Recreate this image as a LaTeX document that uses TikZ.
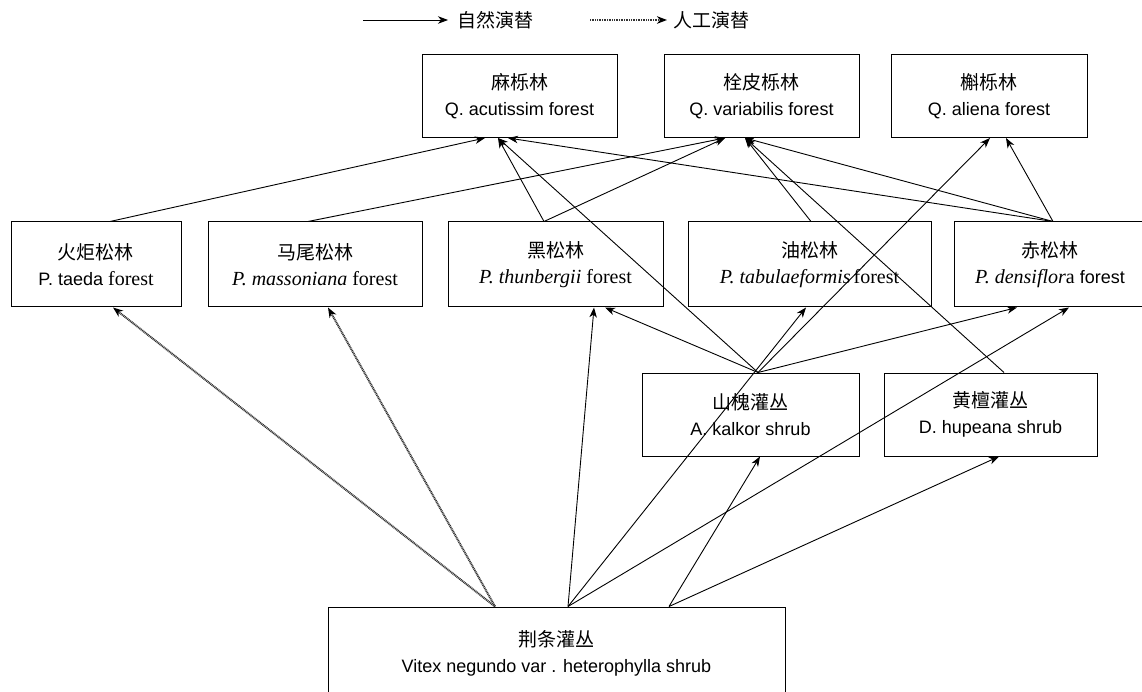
\documentclass[tikz,border=0pt]{standalone}
\usepackage{fontspec}
\setmainfont{Liberation Sans}
\newfontfamily\tms{Liberation Serif}
\newfontfamily\cjk{Noto Sans CJK SC}
\usetikzlibrary{arrows.meta}
\newcommand\zhtext[1]{{\cjk\fontsize{19pt}{26pt}\selectfont #1}}
\begin{document}
\begin{tikzpicture}[x=1pt,y=-1pt,
  box/.style={draw, line width=1pt, inner sep=0pt, align=center,
    font=\fontsize{18pt}{26pt}\selectfont},
  legtext/.style={inner sep=0pt, anchor=west, font=\cjk\fontsize{19pt}{26pt}\selectfont},
  arr/.style={line width=0.9pt, -{Stealth[length=10pt,width=7.5pt,inset=3pt]}},
  art/.style={line width=2pt, black!80, dash pattern=on 1pt off 0.7pt,
    -{Stealth[length=10pt,width=7.5pt,inset=3pt,black]}}]
\useasboundingbox (0,0) rectangle (1142,692);

% legend
\coordinate (ls1) at (363,20);
\node[legtext] (lt1) at (457,20) {自然演替};
\coordinate (ls2) at (590,20);
\node[legtext] (lt2) at (673,20) {人工演替};
\draw[arr] (ls1) -- ([xshift=-9pt]lt1.west);
\draw[art] (ls2) -- ([xshift=-6pt]lt2.west);

% top row
\node[box, minimum width=195pt, minimum height=83pt] (mali) at (519.5,96) {\zhtext{麻栎林}\\Q. acutissim forest};
\node[box, minimum width=195pt, minimum height=83pt] (shuanpi) at (761.5,96) {\zhtext{栓皮栎林}\\Q. variabilis forest};
\node[box, minimum width=196pt, minimum height=83pt] (hu) at (989,96) {\zhtext{槲栎林}\\Q. aliena forest};

% middle row
\node[box, minimum width=170pt, minimum height=85pt] (huoju) at (96,264.5) {\zhtext{火炬松林}\\P. taeda {\tms\fontsize{20pt}{26pt}\selectfont forest}};
\node[box, minimum width=214pt, minimum height=85pt] (mawei) at (315,264.5) {\zhtext{马尾松林}\\{\tms\fontsize{20pt}{26pt}\selectfont\textit{P. massoniana} forest}};
\node[box, minimum width=215pt, minimum height=85pt] (heisong) at (555.5,264.5) {\zhtext{黑松林}\\{\tms\fontsize{20pt}{26pt}\selectfont\textit{P. thunbergii} forest}};
\node[box, minimum width=243pt, minimum height=85pt] (yousong) at (809.5,264.5) {\zhtext{油松林}\\{\tms\fontsize{20pt}{26pt}\selectfont\textit{P. tabulaeformis}\hspace{-2pt} forest}};
\node[box, minimum width=192pt, minimum height=85pt] (chisong) at (1050,264.5) {\zhtext{赤松林}\\{\tms\fontsize{20pt}{26pt}\selectfont\textit{P. densiflor}a} forest};

% shrubs
\node[box, minimum width=217pt, minimum height=83pt] (shanhuai) at (750.5,414.5) {\zhtext{山槐灌丛}\\A. kalkor shrub};
\node[box, minimum width=213pt, minimum height=83pt] (huangtan) at (990.5,414.5) {\zhtext{黄檀灌丛}\\D. hupeana shrub};

% bottom
\node[box, minimum width=457pt, minimum height=93pt] (jingtiao) at (556.5,653.5) {\zhtext{荆条灌丛}\\Vitex negundo var . heterophylla shrub};

% connectors to top row
\draw[arr] ([xshift=14pt]huoju.north) -- ([xshift=-34.5pt]mali.south);
\draw[arr] ([xshift=-7pt]mawei.north) -- ([xshift=-36.5pt]shuanpi.south);
\draw[arr] ([xshift=-11.5pt]heisong.north) -- ([xshift=-21.5pt]mali.south);
\draw[arr] ([xshift=-11.5pt]heisong.north) -- ([xshift=-36.5pt]shuanpi.south);
\draw[arr] ([xshift=1.5pt]yousong.north) -- ([xshift=-16.5pt]shuanpi.south);
\draw[arr] ([xshift=3pt]chisong.north) -- ([xshift=-11.5pt]mali.south);
\draw[arr] ([xshift=3pt]chisong.north) -- ([xshift=-16.5pt]shuanpi.south);
\draw[arr] ([xshift=3pt]chisong.north) -- ([xshift=17pt]hu.south);
\draw[arr] ([xshift=7.5pt]shanhuai.north) -- ([xshift=-21.5pt]mali.south);
\draw[arr] ([xshift=7.5pt]shanhuai.north) -- ([xshift=1pt]hu.south);
\draw[arr] ([xshift=13.5pt]huangtan.north) -- ([xshift=-16.5pt]shuanpi.south);

% connectors to middle row
\draw[arr] ([xshift=7.5pt]shanhuai.north) -- ([xshift=49.5pt]heisong.south);
\draw[arr] ([xshift=7.5pt]shanhuai.north) -- ([xshift=-33pt]chisong.south);
\draw[art] ([xshift=-61.5pt]jingtiao.north) -- ([xshift=17pt]huoju.south);
\draw[art] ([xshift=-61.5pt]jingtiao.north) -- ([xshift=13pt]mawei.south);
\draw[arr] ([xshift=11.5pt]jingtiao.north) -- ([xshift=38.5pt]heisong.south);
\draw[arr] ([xshift=11.5pt]jingtiao.north) -- ([xshift=-3.5pt]yousong.south);
\draw[arr] ([xshift=11.5pt]jingtiao.north) -- ([xshift=19pt]chisong.south);

% connectors to shrubs
\draw[arr] ([xshift=112.5pt]jingtiao.north) -- ([xshift=9.5pt]shanhuai.south);
\draw[arr] ([xshift=112.5pt]jingtiao.north) -- ([xshift=8.5pt]huangtan.south);
\end{tikzpicture}
\end{document}
